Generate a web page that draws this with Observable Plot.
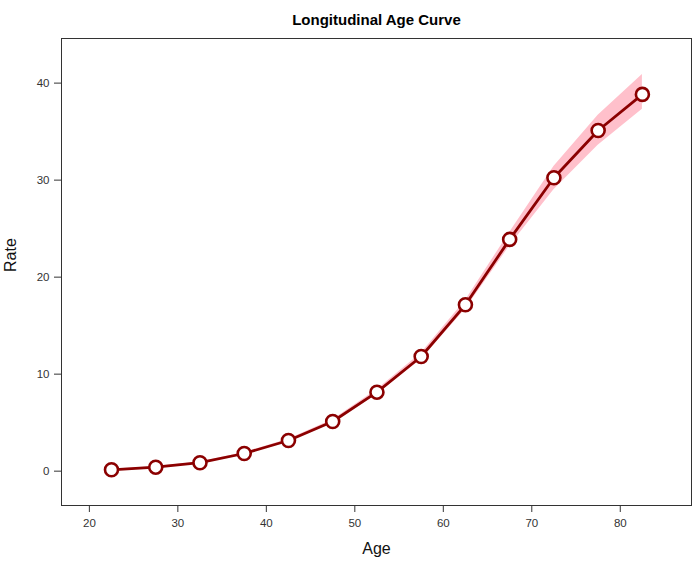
<!DOCTYPE html>
<html>
<head>
<meta charset="utf-8">
<script src="https://cdn.jsdelivr.net/npm/d3@7"></script>
<script src="https://cdn.jsdelivr.net/npm/@observablehq/plot@0.6"></script>
<style>
  html, body { margin: 0; padding: 0; background: #fff; }
  #chart svg { display: block; }
</style>
</head>
<body>
<div id="chart"></div>
<script>
const title = "Longitudinal Age Curve";
const xLabel = "Age";
const yLabel = "Rate";
const ages  = [22.5, 27.5, 32.5, 37.5, 42.5, 47.5, 52.5, 57.5, 62.5, 67.5, 72.5, 77.5, 82.5];
const rates = [0.14, 0.41, 0.87, 1.82, 3.16, 5.12, 8.14, 11.82, 17.15, 23.89, 30.25, 35.12, 38.84];
const lower = [0.09, 0.35, 0.80, 1.72, 3.02, 4.95, 7.90, 11.50, 16.70, 23.20, 29.00, 33.60, 37.30];
const upper = [0.19, 0.47, 0.95, 1.92, 3.30, 5.30, 8.38, 12.15, 17.60, 24.60, 31.40, 36.70, 40.90];
const xTicks = [20, 30, 40, 50, 60, 70, 80];
const yTicks = [0, 10, 20, 30, 40];

const data = ages.map((a, i) => ({age: a, rate: rates[i], lo: lower[i], hi: upper[i]}));

const font = "'Liberation Sans', Arial, Helvetica, sans-serif";
const dark = "#8B0000";

const chart = Plot.plot({
  width: 696,
  height: 567,
  marginTop: 38,
  marginLeft: 61,
  marginRight: 5,
  marginBottom: 62,
  style: {fontFamily: font, background: "#fff", color: "#222"},
  x: {domain: [16.85, 88.05]},
  y: {domain: [-3.54, 44.6]},
  marks: [
    Plot.areaY(data, {x: "age", y1: "lo", y2: "hi", fill: "#ffc0cb", fillOpacity: 1}),
    Plot.line(data, {x: "age", y: "rate", stroke: dark, strokeWidth: 2.8}),
    Plot.dot(data, {x: "age", y: "rate", r: 6.5, fill: "#fff", stroke: dark, strokeWidth: 2.6}),
    Plot.frame({stroke: "#333", strokeWidth: 1}),
    Plot.axisX(xTicks, {tickSize: 7, tickPadding: 6, fontSize: 11.5, label: null, stroke: "#333", color: "#333"}),
    Plot.axisY(yTicks, {tickSize: 7, tickPadding: 5, fontSize: 11.5, label: null, stroke: "#333", color: "#333"}),
    Plot.text([title], {frameAnchor: "top", dy: -24, fontSize: 15, fontWeight: "bold", fill: "#000"}),
    Plot.text([xLabel], {frameAnchor: "bottom", dy: 48, fontSize: 16, fill: "#111"}),
    Plot.text([yLabel], {frameAnchor: "left", dx: -51, rotate: -90, fontSize: 16, fill: "#111"})
  ]
});
document.getElementById("chart").append(chart);
</script>
</body>
</html>
